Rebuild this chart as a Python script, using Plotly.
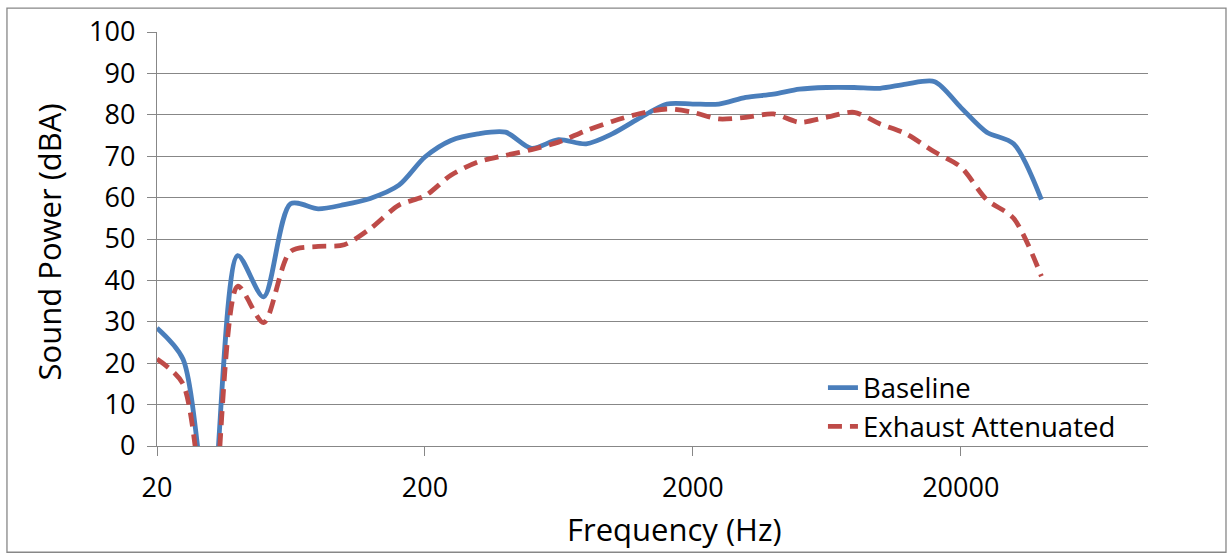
import plotly.graph_objects as go

freq_hz = [20, 25, 31.5, 40, 50, 63, 80, 100, 125, 160, 200, 250, 315, 400, 500,
           630, 800, 1000, 1250, 1600, 2000, 2500, 3150, 4000, 5000, 6300, 8000,
           10000, 12500, 16000, 20000, 25000, 31500, 40000]
baseline = [28.5, 21, -20, 46, 36, 58.5, 57.3, 58.3, 59.8, 63, 69.8, 73.8, 75.4, 75.8,
            71.9, 74, 73, 75.4, 79, 82.6, 82.6, 82.6, 84.2, 85, 86.2, 86.6, 86.6,
            86.4, 87.4, 88, 81.8, 75.8, 73, 59.5]
exhaust_attenuated = [21, 15, -25, 38.6, 29.8, 47, 48.2, 48.6, 52.5, 58.2, 60.4, 65.4,
                      68.6, 70.2, 71.6, 73.4, 76.2, 78.4, 80.2, 81.4, 80.6, 79, 79.4,
                      80.2, 78.2, 79.4, 80.6, 77.8, 75.4, 71, 67.4, 59.5, 55, 41]
x_tick_vals = [20, 200, 2000, 20000]
x_tick_text = ["20", "200", "2000", "20000"]
y_tick_vals = [0, 10, 20, 30, 40, 50, 60, 70, 80, 90, 100]

FONT = "Open Sans, Lato, sans-serif"
GRID = "#878787"

fig = go.Figure()
fig.add_trace(go.Scatter(
    x=freq_hz, y=baseline, mode="lines", name="Baseline",
    line=dict(color="#4A7EBB", width=4.8, shape="spline", smoothing=0.8),
))
fig.add_trace(go.Scatter(
    x=freq_hz, y=exhaust_attenuated, mode="lines", name="Exhaust Attenuated",
    line=dict(color="#BE4B48", width=4.8, shape="spline", smoothing=0.8, dash="14px,8px"),
))

fig.update_layout(
    width=1227, height=555,
    margin=dict(l=157, r=79, t=29, b=109),
    paper_bgcolor="white", plot_bgcolor="white",
    font=dict(family=FONT, color="black", size=27),
    showlegend=True,
    legend=dict(
        x=0.672, y=0.2, xanchor="left", yanchor="top",
        bgcolor="rgba(0,0,0,0)", font=dict(size=27.5, family=FONT, color="black"),
        tracegroupgap=0,
    ),
    xaxis=dict(
        type="log", range=[1.30103, 5.0],
        tickvals=x_tick_vals, ticktext=x_tick_text,
        showgrid=False, showline=True, linecolor=GRID, linewidth=1.3,
        ticks="outside", ticklen=9, tickcolor=GRID, tickwidth=1.3,
        ticklabelstandoff=8, tickfont=dict(size=27, family=FONT),
        zeroline=False,
    ),
    yaxis=dict(
        range=[0, 100], tickvals=y_tick_vals,
        showgrid=True, gridcolor=GRID, gridwidth=1.3,
        showline=True, linecolor=GRID, linewidth=1.3,
        ticks="outside", ticklen=9, tickcolor=GRID, tickwidth=1.3,
        ticklabelstandoff=6, tickfont=dict(size=27, family=FONT),
        zeroline=False,
    ),
    annotations=[
        dict(text="Frequency (Hz)", xref="paper", yref="paper", x=0.5217, y=-0.2014,
             xanchor="center", yanchor="middle", showarrow=False,
             font=dict(size=31, family=FONT, color="black")),
        dict(text="Sound Power (dBA)", xref="paper", yref="paper", x=-0.108, y=0.494,
             xanchor="center", yanchor="middle", showarrow=False, textangle=-90,
             font=dict(size=31, family=FONT, color="black")),
    ],
    shapes=[
        dict(type="rect", xref="paper", yref="paper", x0=-0.1514, x1=1.0787,
             y0=-0.2566, y1=1.0576, line=dict(color=GRID, width=1.3), layer="below"),
    ],
)

fig.write_html("out.html", config={"displayModeBar": False},
               post_script="document.body.style.margin='0';")
